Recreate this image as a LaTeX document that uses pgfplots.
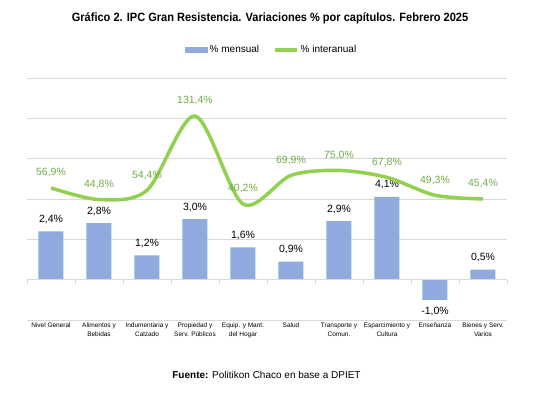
\documentclass[border=0pt]{standalone}
\usepackage{pgfplots}
\pgfplotsset{compat=1.18}
\usepackage{pgfplotstable}
\usepackage{fontspec}
\setmainfont{Liberation Sans}
\newfontfamily\titlefont[FakeStretch=0.92]{Liberation Sans}
\definecolor{barblue}{HTML}{8FAADC}
\definecolor{linegreen}{HTML}{92D050}
\definecolor{labgreen}{HTML}{70AD47}
\definecolor{gridgray}{HTML}{D9D9D9}

\pgfplotstableread{
x m i
0 2.4 56.9
1 2.8 44.8
2 1.2 54.4
3 3.0 131.4
4 1.6 40.2
5 0.9 69.9
6 2.9 75.0
7 4.1 67.8
8 -1.0 49.3
9 0.5 45.4
}\data

\begin{document}
\begin{tikzpicture}
\useasboundingbox (0,0) rectangle (544pt,395pt);
\begin{axis}[
  at={(27pt,75pt)}, anchor=south west,
  scale only axis, width=480pt, height=242pt,
  xmin=-0.5, xmax=9.5, ymin=-2, ymax=10,
  ytick={-2,0,...,10}, yticklabels={},
  ymajorgrids, grid style={gridgray, line width=0.6pt},
  axis line style={draw=none},
  major tick length=0pt,
  xtick={0,...,9},
  xticklabels={Nivel General, Alimentos y\\Bebidas, Indumentaria y\\Calzado, Propiedad y\\Serv. Públicos, Equip. y Mant.\\del Hogar, Salud, Transporte y\\Comun., Esparcimiento y\\Cultura, Enseñanza, Bienes y Serv.\\Varios},
  xticklabel style={font=\fontsize{6.5}{8.5}\selectfont, align=center, inner sep=2pt, yshift=-1pt},
  ybar, bar width=25pt,
  nodes near coords={\pgfmathprintnumber[fixed,fixed zerofill,precision=1,use comma,assume math mode=true]{\pgfplotspointmeta}\%},
  every node near coord/.append style={font=\fontsize{10.5}{12}\selectfont, black, inner sep=7.5pt},
  clip=false,
]
\addplot[fill=barblue, draw=none] table[x=x,y=m]{\data};
\draw[gridgray, line width=0.6pt] (axis cs:-0.5,0) -- (axis cs:9.5,0);
\pgfplotsinvokeforeach{-0.5,0.5,...,9.5}{\draw[gridgray, line width=0.6pt] (axis cs:#1,0) -- ++(0pt,-4pt);}
\end{axis}
\begin{axis}[
  at={(27pt,75pt)}, anchor=south west,
  scale only axis, width=480pt, height=242pt,
  xmin=-0.5, xmax=9.5, ymin=-80, ymax=170.8,
  hide x axis, hide y axis,
  legend style={at={(0.51,1.116)}, anchor=center, draw=none, legend columns=2, font=\fontsize{10}{12}\selectfont, /tikz/every even column/.append style={column sep=12pt}},
  clip=false,
]
\addlegendimage{legend image code/.code={\fill[barblue] (0pt,-2.5pt) rectangle (22pt,2.5pt);}}
\addlegendentry{\% mensual}
\addplot[linegreen, line width=3.5pt, smooth, mark=none,
  nodes near coords={\pgfmathprintnumber[fixed,fixed zerofill,precision=1,use comma,assume math mode=true]{\pgfplotspointmeta}\%},
  every node near coord/.append style={labgreen, inner sep=9pt, font=\fontsize{10.5}{12}\selectfont},
  legend image code/.code={\draw[linegreen, line width=3.5pt] (0pt,0pt) -- (22pt,0pt);}] table[x=x,y=i]{\data};
\addlegendentry{\% interanual}
\end{axis}
\node[font=\titlefont\bfseries\fontsize{12}{14}\selectfont] at (270pt,377pt) {Gráfico 2. IPC Gran Resistencia. Variaciones \% por capítulos. Febrero 2025};
\node[font=\fontsize{10}{12}\selectfont] at (266.5pt,20pt) {\textbf{Fuente:} Politikon Chaco en base a DPIET};
\end{tikzpicture}
\end{document}
